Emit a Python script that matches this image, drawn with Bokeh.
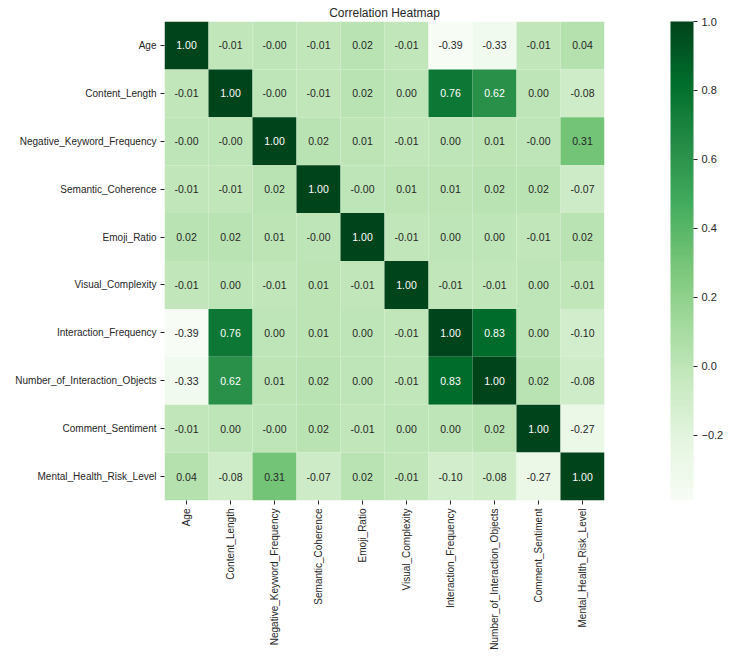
import math
import numpy as np
from bokeh.plotting import figure
from bokeh.models import (ColumnDataSource, LinearColorMapper, ColorBar, FixedTicker,
                          CustomJSTickFormatter)
from bokeh.embed import file_html
from bokeh.resources import INLINE

features = ["Age", "Content_Length", "Negative_Keyword_Frequency", "Semantic_Coherence",
            "Emoji_Ratio", "Visual_Complexity", "Interaction_Frequency",
            "Number_of_Interaction_Objects", "Comment_Sentiment", "Mental_Health_Risk_Level"]

row_age = [1.00, -0.01, -0.003, -0.01, 0.02, -0.01, -0.39, -0.33, -0.01, 0.04]
row_content = [-0.01, 1.00, -0.003, -0.01, 0.02, 0.00, 0.76, 0.62, 0.00, -0.08]
row_negative = [-0.003, -0.003, 1.00, 0.02, 0.01, -0.01, 0.00, 0.01, -0.003, 0.31]
row_semantic = [-0.01, -0.01, 0.02, 1.00, -0.003, 0.01, 0.01, 0.02, 0.02, -0.07]
row_emoji = [0.02, 0.02, 0.01, -0.003, 1.00, -0.01, 0.00, 0.00, -0.01, 0.02]
row_visual = [-0.01, 0.00, -0.01, 0.01, -0.01, 1.00, -0.01, -0.01, 0.00, -0.01]
row_interaction = [-0.39, 0.76, 0.00, 0.01, 0.00, -0.01, 1.00, 0.83, 0.00, -0.10]
row_number = [-0.33, 0.62, 0.01, 0.02, 0.00, -0.01, 0.83, 1.00, 0.02, -0.08]
row_comment = [-0.01, 0.00, -0.003, 0.02, -0.01, 0.00, 0.00, 0.02, 1.00, -0.27]
row_mental = [0.04, -0.08, 0.31, -0.07, 0.02, -0.01, -0.10, -0.08, -0.27, 1.00]

rows = [row_age, row_content, row_negative, row_semantic, row_emoji, row_visual,
        row_interaction, row_number, row_comment, row_mental]

colorbar_ticks = [-0.2, 0.0, 0.2, 0.4, 0.6, 0.8, 1.0]

# matplotlib "Greens" palette (interpolated to 256 steps)
anchors = ["#f7fcf5", "#e5f5e0", "#c7e9c0", "#a1d99b", "#74c476",
           "#41ab5d", "#238b45", "#006d2c", "#00441b"]
def hex2rgb(h):
    return np.array([int(h[i:i + 2], 16) for i in (1, 3, 5)], dtype=float)
anc = np.array([hex2rgb(h) for h in anchors])
pos = np.linspace(0, 1, len(anchors))
palette = []
for t in np.linspace(0, 1, 256):
    c = [np.interp(t, pos, anc[:, k]) for k in range(3)]
    palette.append("#%02x%02x%02x" % tuple(int(round(v)) for v in c))

xs, ys, vals, labels, tcolors = [], [], [], [], []
for r, yname in zip(rows, features):
    for v, xname in zip(r, features):
        xs.append(xname)
        ys.append(yname)
        vals.append(v)
        labels.append(f"{v:.2f}")
        tcolors.append("white" if v > 0.5 else "#262626")

src = ColumnDataSource(dict(x=xs, y=ys, v=vals, lab=labels, tc=tcolors))

allv = [v for r in rows for v in r]
mapper = LinearColorMapper(palette=palette, low=min(allv), high=max(allv))

FONT = "Liberation Sans"

p = figure(x_range=features, y_range=list(reversed(features)),
           frame_width=440, frame_height=479, output_backend="svg", toolbar_location=None,
           min_border_left=164, min_border_right=112, min_border_top=21,
           min_border_bottom=150, title="Correlation Heatmap")
p.title.align = "center"
p.title.text_font = FONT
p.title.text_font_size = "12px"
p.title.text_font_style = "normal"
p.title.text_color = "#262626"
p.title.standoff = 4
p.outline_line_color = None
p.grid.grid_line_color = None
p.background_fill_color = "white"

p.rect(x="x", y="y", width=1, height=1, source=src,
       fill_color={"field": "v", "transform": mapper}, line_color=None)
p.text(x="x", y="y", text="lab", source=src, text_color="tc",
       text_align="center", text_baseline="middle", text_font_size="10.5px",
       text_font={"value": FONT})

for ax in (p.xaxis[0], p.yaxis[0]):
    ax.axis_line_color = None
    ax.major_tick_in = 0
    ax.major_tick_out = 4
    ax.major_tick_line_color = "#262626"
    ax.major_label_text_font = FONT
    ax.major_label_text_font_size = "10px"
    ax.major_label_text_color = "#262626"
    ax.major_label_standoff = 4
p.xaxis.major_label_orientation = math.pi / 2

cb = ColorBar(color_mapper=mapper, width=23, padding=0, margin=0,
              location=(66, 0), ticker=FixedTicker(ticks=colorbar_ticks),
              formatter=CustomJSTickFormatter(code="return (tick < 0 ? '\u2212' + (-tick).toFixed(1) : tick.toFixed(1));"),
              major_label_text_font=FONT, major_label_text_font_size="11px",
              major_label_text_color="#262626", major_tick_in=0, major_tick_out=4,
              major_tick_line_color="#262626", bar_line_color=None,
              label_standoff=4, border_line_color=None, background_fill_color=None)
p.add_layout(cb, "right")

open("out.html", "w").write(file_html(p, INLINE))
